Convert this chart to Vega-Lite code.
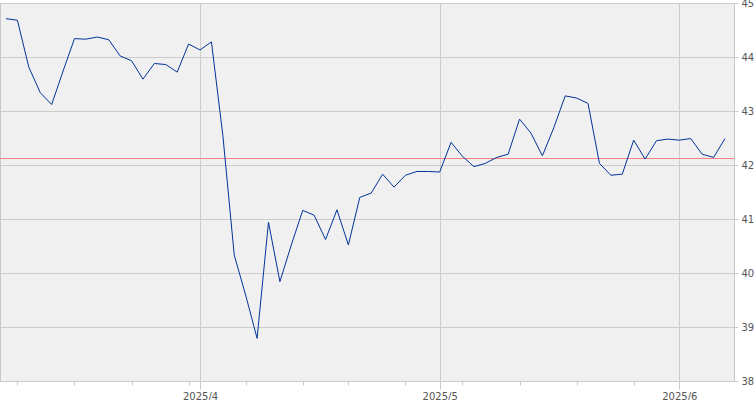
{
  "$schema": "https://vega.github.io/schema/vega-lite/v6.json",
  "width": 734,
  "height": 378,
  "autosize": "none",
  "padding": {"left": 0, "top": 3, "right": 21, "bottom": 19},
  "background": "#ffffff",
  "config": {
    "view": {"fill": "#f0f0f0", "stroke": "#c8c8c8", "strokeWidth": 1},
    "axis": {"labelFont": "DejaVu Sans", "labelFontSize": 10, "labelColor": "#555555", "gridColor": "#cccccc", "tickColor": "#cccccc", "domain": false, "title": null}
  },
  "layer": [
    {
      "data": {"values": [{"ref": 42.12}]},
      "mark": {"type": "rule", "color": "#ff8080", "strokeWidth": 1},
      "encoding": {"y": {"field": "ref", "type": "quantitative"}}
    },
    {
      "data": {"values": [
        {"date": "2025-03-07", "v": 44.71},
        {"date": "2025-03-10", "v": 44.68},
        {"date": "2025-03-11", "v": 43.81},
        {"date": "2025-03-12", "v": 43.34},
        {"date": "2025-03-13", "v": 43.12},
        {"date": "2025-03-14", "v": 43.74},
        {"date": "2025-03-17", "v": 44.34},
        {"date": "2025-03-18", "v": 44.33},
        {"date": "2025-03-19", "v": 44.37},
        {"date": "2025-03-20", "v": 44.32},
        {"date": "2025-03-21", "v": 44.02},
        {"date": "2025-03-24", "v": 43.93},
        {"date": "2025-03-25", "v": 43.59},
        {"date": "2025-03-26", "v": 43.88},
        {"date": "2025-03-27", "v": 43.86},
        {"date": "2025-03-28", "v": 43.72},
        {"date": "2025-03-31", "v": 44.24},
        {"date": "2025-04-01", "v": 44.13},
        {"date": "2025-04-02", "v": 44.28},
        {"date": "2025-04-03", "v": 42.55},
        {"date": "2025-04-04", "v": 40.33},
        {"date": "2025-04-07", "v": 39.59},
        {"date": "2025-04-08", "v": 38.79},
        {"date": "2025-04-09", "v": 40.94},
        {"date": "2025-04-10", "v": 39.84},
        {"date": "2025-04-11", "v": 40.52},
        {"date": "2025-04-14", "v": 41.16},
        {"date": "2025-04-15", "v": 41.07},
        {"date": "2025-04-16", "v": 40.62},
        {"date": "2025-04-17", "v": 41.17},
        {"date": "2025-04-21", "v": 40.52},
        {"date": "2025-04-22", "v": 41.40},
        {"date": "2025-04-23", "v": 41.48},
        {"date": "2025-04-24", "v": 41.83},
        {"date": "2025-04-25", "v": 41.59},
        {"date": "2025-04-28", "v": 41.81},
        {"date": "2025-04-29", "v": 41.88},
        {"date": "2025-04-30", "v": 41.88},
        {"date": "2025-05-01", "v": 41.87},
        {"date": "2025-05-02", "v": 42.42},
        {"date": "2025-05-05", "v": 42.16},
        {"date": "2025-05-06", "v": 41.97},
        {"date": "2025-05-07", "v": 42.03},
        {"date": "2025-05-08", "v": 42.14},
        {"date": "2025-05-09", "v": 42.20},
        {"date": "2025-05-12", "v": 42.85},
        {"date": "2025-05-13", "v": 42.59},
        {"date": "2025-05-14", "v": 42.17},
        {"date": "2025-05-15", "v": 42.69},
        {"date": "2025-05-16", "v": 43.28},
        {"date": "2025-05-19", "v": 43.24},
        {"date": "2025-05-20", "v": 43.14},
        {"date": "2025-05-21", "v": 42.03},
        {"date": "2025-05-22", "v": 41.81},
        {"date": "2025-05-23", "v": 41.83},
        {"date": "2025-05-27", "v": 42.46},
        {"date": "2025-05-28", "v": 42.11},
        {"date": "2025-05-29", "v": 42.45},
        {"date": "2025-05-30", "v": 42.48},
        {"date": "2025-06-02", "v": 42.46},
        {"date": "2025-06-03", "v": 42.49},
        {"date": "2025-06-04", "v": 42.20},
        {"date": "2025-06-05", "v": 42.14},
        {"date": "2025-06-06", "v": 42.49}
      ]},
      "mark": {"type": "line", "color": "#003399", "strokeWidth": 1},
      "encoding": {
        "x": {
          "field": "date",
          "type": "ordinal",
          "sort": null,
          "scale": {"type": "point", "padding": 0.659, "align": 0.4},
          "axis": {
            "values": ["2025-03-10", "2025-03-17", "2025-03-24", "2025-03-31", "2025-04-01", "2025-04-07", "2025-04-14", "2025-04-21", "2025-04-28", "2025-05-01", "2025-05-05", "2025-05-12", "2025-05-19", "2025-05-27", "2025-06-02"],
            "labelExpr": "datum.value == '2025-04-01' ? '2025/4' : datum.value == '2025-05-01' ? '2025/5' : datum.value == '2025-06-02' ? '2025/6' : ''",
            "labelAngle": 0,
            "labelOverlap": false,
            "labelFlush": false,
            "labelPadding": 2,
            "grid": true,
            "gridOpacity": {"condition": {"test": "indexof(['2025-04-01','2025-05-01','2025-06-02'], datum.value) >= 0", "value": 1}, "value": 0},
            "tickSize": {"condition": {"test": "indexof(['2025-04-01','2025-05-01','2025-06-02'], datum.value) >= 0", "value": 8}, "value": 4}
          }
        },
        "y": {
          "field": "v",
          "type": "quantitative",
          "scale": {"domain": [38, 45], "zero": false, "nice": false},
          "axis": {
            "orient": "right",
            "values": [38, 39, 40, 41, 42, 43, 44, 45],
            "format": "d",
            "grid": true,
            "tickSize": 4,
            "labelPadding": 3,
            "labelBaseline": "middle"
          }
        }
      }
    }
  ]
}
